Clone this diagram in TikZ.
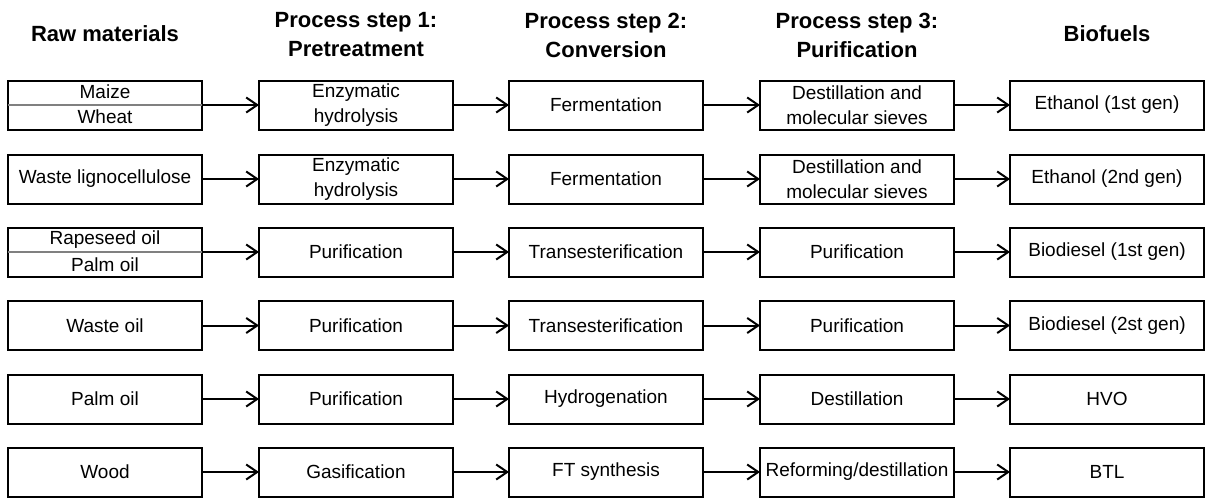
\documentclass[tikz,border=0pt]{standalone}
\usepackage{fontspec}
\setmainfont{Liberation Sans}
\usetikzlibrary{arrows.meta}
\begin{document}
\begin{tikzpicture}[x=1pt,y=-1pt,
  box/.style={draw=black, line width=2pt, minimum width=194pt, minimum height=49pt, inner sep=0pt, outer sep=0pt, align=center, font=\fontsize{19}{25}\selectfont},
  half/.style={inner sep=0pt, font=\fontsize{19}{25}\selectfont},
  head/.style={align=center, font=\fontsize{22}{29}\selectfont\bfseries},
  flow/.style={line width=2pt, -{Straight Barb[length=11pt,width=15pt,line width=2pt]}},
  divider/.style={draw=gray, line width=2pt}]
\useasboundingbox (0,0) rectangle (1205,498);
% headers
\node[head] (h1) at (105,34) {Raw materials};
\node[head] (h2) at (356,35) {Process step 1:\\Pretreatment};
\node[head] (h3) at (606,35) {Process step 2:\\Conversion};
\node[head] (h4) at (857,35) {Process step 3:\\Purification};
\node[head] (h5) at (1107,34) {Biofuels};
% row 1
\node[box] (r1a) at (105,105) {};
\node[half] (r1a1) at (105,92) {Maize};
\node[half] (r1a2) at (105,117) {Wheat};
\draw[divider] (r1a.west) -- (r1a.east);
\node[box] (r1b) at (356,105) {Enzymatic\\hydrolysis};
\node[box] (r1c) at (606,105) {Fermentation};
\node[box] (r1d) at (857,105) {Destillation and\\molecular sieves};
\node[box] (r1e) at (1107,105) {Ethanol (1st gen)};
% row 2
\node[box] (r2a) at (105,179) {Waste lignocellulose};
\node[box] (r2b) at (356,179) {Enzymatic\\hydrolysis};
\node[box] (r2c) at (606,179) {Fermentation};
\node[box] (r2d) at (857,179) {Destillation and\\molecular sieves};
\node[box] (r2e) at (1107,179) {Ethanol (2nd gen)};
% row 3
\node[box] (r3a) at (105,252) {};
\node[half] (r3a1) at (105,240) {Rapeseed oil};
\node[half] (r3a2) at (105,265) {Palm oil};
\draw[divider] (r3a.west) -- (r3a.east);
\node[box] (r3b) at (356,252) {Purification};
\node[box] (r3c) at (606,252) {Transesterification};
\node[box] (r3d) at (857,252) {Purification};
\node[box] (r3e) at (1107,252) {Biodiesel (1st gen)};
% row 4
\node[box] (r4a) at (105,325.5) {Waste oil};
\node[box] (r4b) at (356,325.5) {Purification};
\node[box] (r4c) at (606,325.5) {Transesterification};
\node[box] (r4d) at (857,325.5) {Purification};
\node[box] (r4e) at (1107,325.5) {Biodiesel (2st gen)};
% row 5
\node[box] (r5a) at (105,399) {Palm oil};
\node[box] (r5b) at (356,399) {Purification};
\node[box] (r5c) at (606,399) {Hydrogenation};
\node[box] (r5d) at (857,399) {Destillation};
\node[box] (r5e) at (1107,399) {HVO};
% row 6
\node[box] (r6a) at (105,472) {Wood};
\node[box] (r6b) at (356,472) {Gasification};
\node[box] (r6c) at (606,472) {FT synthesis};
\node[box] (r6d) at (857,472) {Reforming/destillation};
\node[box] (r6e) at (1107,472) {BTL};
% arrows
\foreach \r in {1,...,6}{
  \draw[flow] (r\r a) -- (r\r b);
  \draw[flow] (r\r b) -- (r\r c);
  \draw[flow] (r\r c) -- (r\r d);
  \draw[flow] (r\r d) -- (r\r e);
}
\end{tikzpicture}
\end{document}
